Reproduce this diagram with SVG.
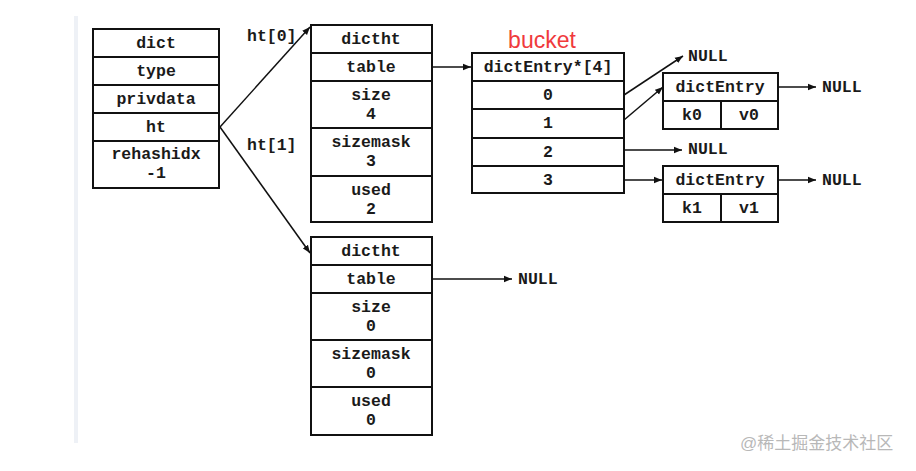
<svg xmlns="http://www.w3.org/2000/svg" width="916" height="471" viewBox="0 0 916 471">
<defs>
<style>
.b{fill:#fff;stroke:#111;stroke-width:2}
.l{stroke:#111;stroke-width:2;fill:none}
.t{font-family:"Liberation Mono",monospace;font-weight:bold;font-size:16.5px;fill:#1a1a1a;text-anchor:middle}
.s{font-family:"Liberation Mono",monospace;font-weight:bold;font-size:16.5px;fill:#1a1a1a}
.c{stroke:#111;stroke-width:1.5;fill:none}
</style>
<marker id="a" viewBox="0 0 10 10" refX="10" refY="5" markerWidth="8" markerHeight="8" markerUnits="userSpaceOnUse" orient="auto"><path d="M0,1 L10,5 L0,9 Z" fill="#111"/></marker>
</defs>
<rect width="916" height="471" fill="#fff"/>
<rect x="74" y="16" width="4" height="427" fill="#eef1f6"/>

<g id="dict">
<rect class="b" x="93" y="29" width="126" height="159"/>
<line class="l" x1="93" y1="57" x2="219" y2="57"/>
<line class="l" x1="93" y1="85" x2="219" y2="85"/>
<line class="l" x1="93" y1="113" x2="219" y2="113"/>
<line class="l" x1="93" y1="141" x2="219" y2="141"/>
<text class="t" x="156" y="48">dict</text>
<text class="t" x="156" y="76">type</text>
<text class="t" x="156" y="104">privdata</text>
<text class="t" x="156" y="132">ht</text>
<text class="t" x="156" y="159">rehashidx</text>
<text class="t" x="156" y="178">-1</text>
</g>

<g id="dictht0">
<rect class="b" x="311" y="25" width="121" height="197"/>
<line class="l" x1="311" y1="53" x2="432" y2="53"/>
<line class="l" x1="311" y1="81" x2="432" y2="81"/>
<line class="l" x1="311" y1="128" x2="432" y2="128"/>
<line class="l" x1="311" y1="176" x2="432" y2="176"/>
<text class="t" x="371" y="44">dictht</text>
<text class="t" x="371" y="72">table</text>
<text class="t" x="371" y="100">size</text>
<text class="t" x="371" y="119">4</text>
<text class="t" x="371" y="147">sizemask</text>
<text class="t" x="371" y="166">3</text>
<text class="t" x="371" y="195">used</text>
<text class="t" x="371" y="214">2</text>
</g>

<g id="dictht1">
<rect class="b" x="311" y="237" width="121" height="198"/>
<line class="l" x1="311" y1="265" x2="432" y2="265"/>
<line class="l" x1="311" y1="293" x2="432" y2="293"/>
<line class="l" x1="311" y1="340" x2="432" y2="340"/>
<line class="l" x1="311" y1="387" x2="432" y2="387"/>
<text class="t" x="371" y="256">dictht</text>
<text class="t" x="371" y="284">table</text>
<text class="t" x="371" y="312">size</text>
<text class="t" x="371" y="331">0</text>
<text class="t" x="371" y="359">sizemask</text>
<text class="t" x="371" y="378">0</text>
<text class="t" x="371" y="406">used</text>
<text class="t" x="371" y="425">0</text>
</g>

<g id="bucket">
<text x="542" y="48" font-family="Liberation Sans,Arial,sans-serif" font-size="23" fill="#f03a3c" text-anchor="middle">bucket</text>
<rect class="b" x="472" y="53" width="152" height="140"/>
<line class="l" x1="472" y1="81" x2="624" y2="81"/>
<line class="l" x1="472" y1="109" x2="624" y2="109"/>
<line class="l" x1="472" y1="138" x2="624" y2="138"/>
<line class="l" x1="472" y1="166" x2="624" y2="166"/>
<text class="t" x="548" y="72">dictEntry*[4]</text>
<text class="t" x="548" y="100">0</text>
<text class="t" x="548" y="128">1</text>
<text class="t" x="548" y="157">2</text>
<text class="t" x="548" y="185">3</text>
</g>

<g id="entry0">
<rect class="b" x="663" y="73" width="115" height="56"/>
<line class="l" x1="663" y1="101" x2="778" y2="101"/>
<line class="l" x1="721" y1="101" x2="721" y2="129"/>
<text class="t" x="720" y="92">dictEntry</text>
<text class="t" x="692" y="120">k0</text>
<text class="t" x="749" y="120">v0</text>
</g>

<g id="entry1">
<rect class="b" x="663" y="166" width="115" height="56"/>
<line class="l" x1="663" y1="194" x2="778" y2="194"/>
<line class="l" x1="721" y1="194" x2="721" y2="222"/>
<text class="t" x="720" y="185">dictEntry</text>
<text class="t" x="692" y="213">k1</text>
<text class="t" x="749" y="213">v1</text>
</g>

<g id="labels">
<text class="s" x="247" y="41">ht[0]</text>
<text class="s" x="247" y="150">ht[1]</text>
<text class="s" x="688" y="61">NULL</text>
<text class="s" x="688" y="154">NULL</text>
<text class="s" x="822" y="92">NULL</text>
<text class="s" x="822" y="185">NULL</text>
<text class="s" x="518" y="284">NULL</text>
</g>

<g id="connectors">
<line class="c" x1="220" y1="127" x2="310" y2="27" marker-end="url(#a)"/>
<line class="c" x1="220" y1="127" x2="310" y2="253" marker-end="url(#a)"/>
<line class="c" x1="432" y1="67" x2="471" y2="67" marker-end="url(#a)"/>
<line class="c" x1="432" y1="279" x2="512" y2="279" marker-end="url(#a)"/>
<line class="c" x1="624" y1="95" x2="683" y2="56" marker-end="url(#a)"/>
<line class="c" x1="624" y1="120" x2="663" y2="87" marker-end="url(#a)"/>
<line class="c" x1="624" y1="150" x2="682" y2="150" marker-end="url(#a)"/>
<line class="c" x1="624" y1="180" x2="662" y2="180" marker-end="url(#a)"/>
<line class="c" x1="778" y1="87" x2="816" y2="87" marker-end="url(#a)"/>
<line class="c" x1="778" y1="180" x2="816" y2="180" marker-end="url(#a)"/>
</g>

<text x="740" y="449" font-family="Liberation Sans,Noto Sans CJK SC,sans-serif" font-size="17" fill="#b8b8b8">@稀土掘金技术社区</text>
</svg>
